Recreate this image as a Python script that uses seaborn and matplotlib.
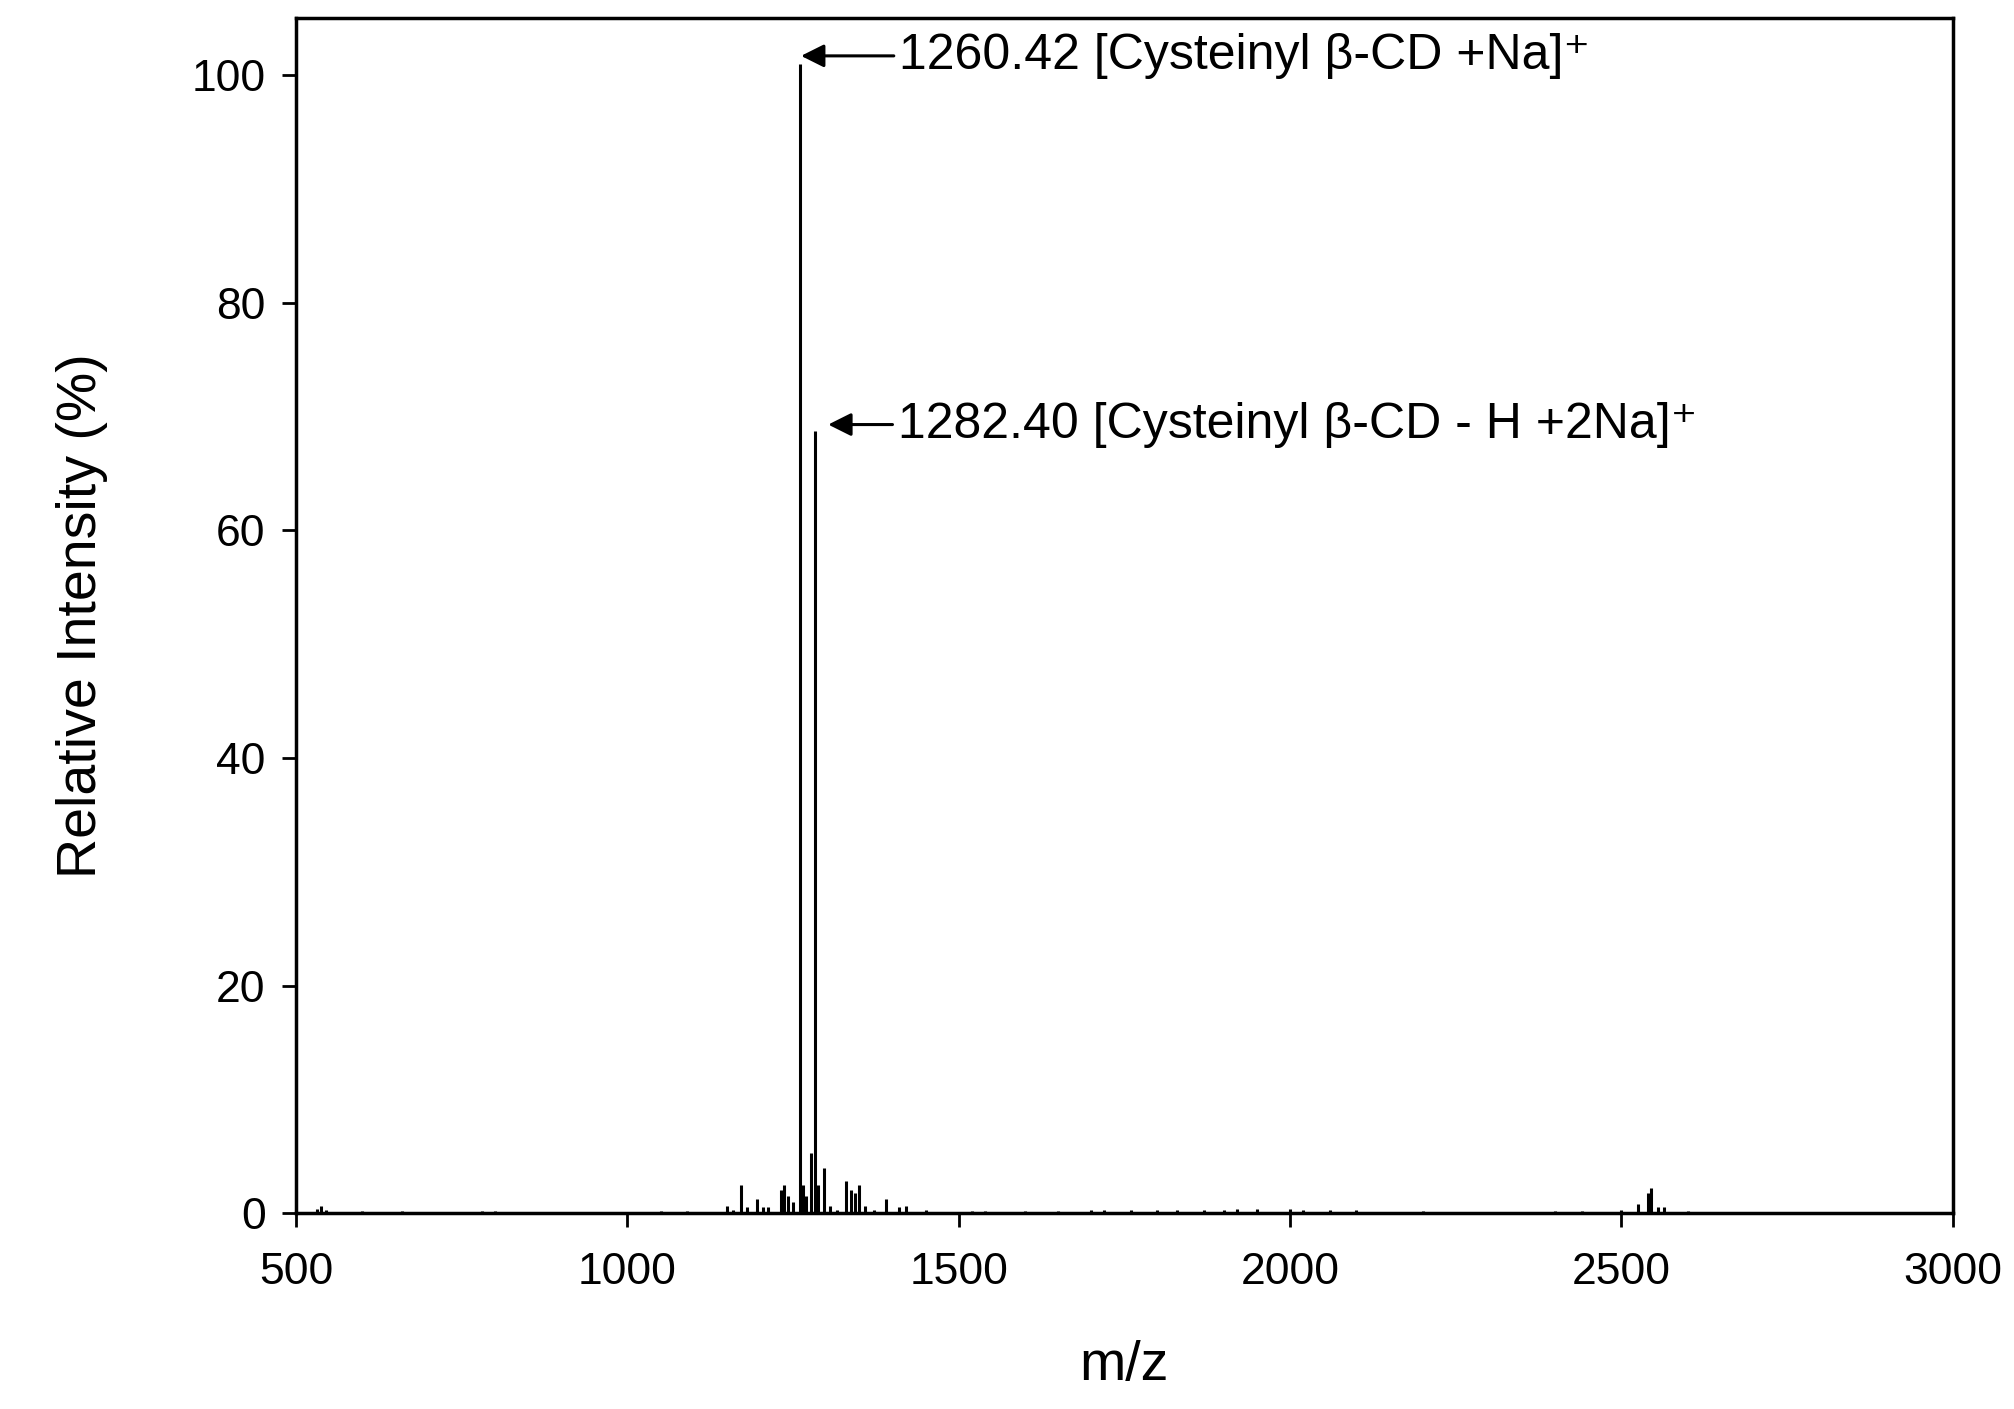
import matplotlib
matplotlib.use("Agg")
import matplotlib.pyplot as plt
import seaborn as sns

# peak positions (m/z) and relative intensity (%)
mz = [532, 538, 545, 600, 660, 780, 800, 1050, 1090, 1150, 1160, 1172, 1180, 1195, 1205,
      1212, 1232, 1237, 1242, 1250, 1260.42, 1265, 1270, 1277, 1282.40, 1288, 1296, 1305,
      1316, 1330, 1338, 1344, 1350, 1358, 1372, 1390, 1410, 1420, 1450,
      1520, 1540, 1600, 1650, 1700, 1720, 1760, 1800, 1830, 1870, 1900, 1920, 1950,
      2000, 2020, 2060, 2100, 2200, 2400, 2440, 2500, 2525, 2540, 2545, 2555, 2565, 2600]
intensity = [0.4, 0.6, 0.3, 0.2, 0.2, 0.2, 0.2, 0.2, 0.2, 0.6, 0.3, 2.5, 0.5, 1.2, 0.5,
             0.5, 2.0, 2.5, 1.5, 1.0, 101.0, 2.5, 1.5, 5.3, 68.7, 2.5, 4.0, 0.6,
             0.3, 2.8, 2.0, 1.8, 2.5, 0.6, 0.3, 1.2, 0.5, 0.6, 0.3,
             0.2, 0.2, 0.2, 0.2, 0.3, 0.3, 0.3, 0.3, 0.3, 0.3, 0.3, 0.4, 0.4,
             0.4, 0.3, 0.3, 0.3, 0.2, 0.2, 0.2, 0.3, 0.8, 1.8, 2.2, 0.5, 0.5, 0.2]

labels = ["1260.42 [Cysteinyl \u03b2-CD +Na]\u207a",
          "1282.40 [Cysteinyl \u03b2-CD - H +2Na]\u207a"]
label_peaks = [(1262, 101.7), (1303, 69.3)]
label_text = [(1402, 101.7), (1400, 69.3)]

sns.set_style("ticks")
plt.rcParams["font.family"] = ["Liberation Sans", "DejaVu Sans"]
plt.rcParams["text.color"] = "black"
plt.rcParams["axes.labelcolor"] = "black"
plt.rcParams["xtick.color"] = "black"
plt.rcParams["ytick.color"] = "black"

fig, ax = plt.subplots(figsize=(20.15, 14.09), dpi=100)
fig.subplots_adjust(left=0.147, right=0.969, top=0.987, bottom=0.139)

ax.vlines(mz, 0, intensity, color="black", linewidth=2.2)

for (px, py), (tx, ty), lab in zip(label_peaks, label_text, labels):
    ax.annotate("", xy=(px, py), xytext=(tx, ty),
                arrowprops=dict(arrowstyle="-|>", color="black", lw=2.2,
                                mutation_scale=35, shrinkA=0, shrinkB=0))
    ax.text(tx + 8, ty, lab, fontsize=36, va="center", ha="left", color="black")

ax.set_xlim(500, 3000)
ax.set_ylim(0, 105)
ax.set_xticks([500, 1000, 1500, 2000, 2500, 3000])
ax.set_yticks([0, 20, 40, 60, 80, 100])
ax.tick_params(labelsize=32, width=2, length=10, direction="out")
ax.tick_params(axis="x", pad=18)
ax.tick_params(axis="y", pad=12)
ax.set_xlabel("m/z", fontsize=40, labelpad=34)
ax.set_ylabel("Relative Intensity (%)", fontsize=40, labelpad=60)
for sp in ax.spines.values():
    sp.set_linewidth(2.5)
    sp.set_color("black")

fig.savefig("out.png", dpi=100)
